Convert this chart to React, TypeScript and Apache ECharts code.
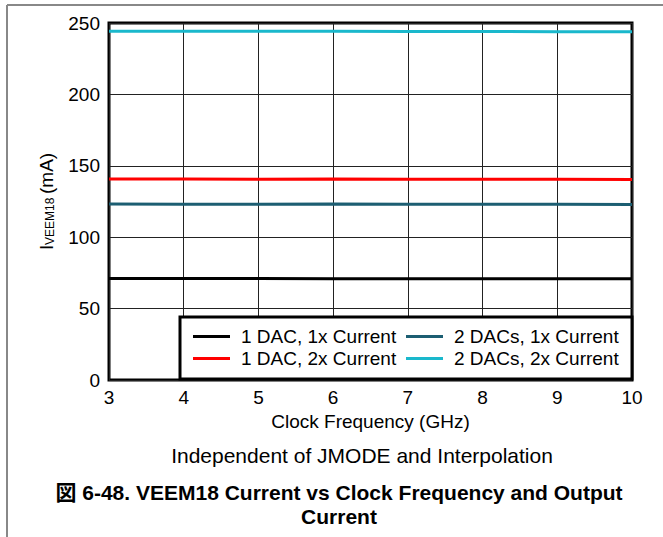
import React, { useEffect, useRef } from "react";
import * as echarts from "echarts";

const freqs = [3, 4, 5, 6, 7, 8, 9, 10];
const seriesNames = ["1 DAC, 1x Current", "1 DAC, 2x Current", "2 DACs, 1x Current", "2 DACs, 2x Current"];
const dac1x1 = [71.0, 71.0, 71.0, 70.9, 70.9, 70.9, 70.9, 70.9];
const dac1x2 = [140.7, 140.7, 140.6, 140.7, 140.6, 140.6, 140.5, 140.4];
const dac2x1 = [123.2, 123.1, 123.1, 123.2, 123.1, 123.0, 123.0, 122.9];
const dac2x2 = [244.3, 244.3, 244.2, 244.2, 244.1, 244.0, 243.9, 243.8];
const colors = ["#000000", "#ff0000", "#1c5e72", "#1ab8cc"];
const legendCol1 = [seriesNames[0], seriesNames[1]];
const legendCol2 = [seriesNames[2], seriesNames[3]];
const xTitle = "Clock Frequency (GHz)";
const subtitle = "Independent of JMODE and Interpolation";
const caption1 = "図 6-48. VEEM18 Current vs Clock Frequency and Output";
const caption2 = "Current";

const FONT = "'Liberation Sans', Arial, 'Noto Sans CJK JP', sans-serif";

export default function App() {
  const ref = useRef<HTMLDivElement>(null);
  useEffect(() => {
    document.body.style.margin = "0";
    const chart = echarts.init(ref.current!, null, { renderer: "svg" });
    const allData = [dac1x1, dac1x2, dac2x1, dac2x2];
    const legendBase = {
      top: 327,
      orient: "vertical",
      padding: 0,
      itemGap: 3,
      itemWidth: 37,
      itemHeight: 3,
      icon: "rect",
      z: 5,
      textStyle: { fontSize: 19, color: "#000", fontFamily: FONT, padding: [0, 0, 0, 6] },
    };
    chart.setOption({
      animation: false,
      backgroundColor: "#ffffff",
      textStyle: { fontFamily: FONT },
      grid: {
        left: 109,
        top: 23,
        width: 523,
        height: 357,
        show: true,
        borderColor: "#000",
        borderWidth: 3,
        backgroundColor: "transparent",
      },
      xAxis: {
        type: "value",
        min: 3,
        max: 10,
        interval: 1,
        name: xTitle,
        nameLocation: "middle",
        nameGap: 32,
        nameTextStyle: { fontSize: 19, color: "#000", fontFamily: FONT },
        axisLine: { show: false },
        axisTick: { show: false },
        axisLabel: { fontSize: 19, color: "#000", margin: 8, fontFamily: FONT },
        splitLine: { show: true, lineStyle: { color: "#222", width: 1 } },
      },
      yAxis: {
        type: "value",
        min: 0,
        max: 250,
        interval: 50,
        axisLine: { show: false },
        axisTick: { show: false },
        axisLabel: { fontSize: 19, color: "#000", margin: 9, fontFamily: FONT },
        splitLine: { show: true, lineStyle: { color: "#222", width: 1 } },
      },
      legend: [
        { ...legendBase, left: 193, data: legendCol1 },
        { ...legendBase, left: 406, data: legendCol2 },
      ],
      series: seriesNames.map((n, i) => ({
        name: n,
        type: "line",
        data: freqs.map((f, j) => [f, allData[i][j]]),
        symbol: "none",
        lineStyle: { color: colors[i], width: 3 },
        itemStyle: { color: colors[i] },
      })),
      graphic: [
        { type: "line", shape: { x1: 7, y1: 5, x2: 663, y2: 5 }, style: { stroke: "#888", lineWidth: 2 } },
        { type: "line", shape: { x1: 7, y1: 5, x2: 7, y2: 537 }, style: { stroke: "#888", lineWidth: 2 } },
        {
          type: "rect",
          z: 3,
          shape: { x: 180, y: 317, width: 452, height: 62 },
          style: { fill: "#fff", stroke: "#000", lineWidth: 3 },
        },
        {
          type: "group",
          x: 46,
          y: 250,
          rotation: Math.PI / 2,
          children: [
            { type: "text", x: 0, y: 0, style: { text: "I", fontSize: 19, fontFamily: FONT, fill: "#000", verticalAlign: "middle", align: "left" } },
            { type: "text", x: 5, y: 4, style: { text: "VEEM18", fontSize: 12, fontFamily: FONT, fill: "#000", verticalAlign: "middle", align: "left" } },
            { type: "text", x: 56, y: 0, style: { text: "(mA)", fontSize: 19, fontFamily: FONT, fill: "#000", verticalAlign: "middle", align: "left" } },
          ],
        },
        { type: "text", x: 362, y: 455, style: { text: subtitle, fontSize: 21, fontFamily: FONT, fill: "#000", align: "center", verticalAlign: "middle" } },
        { type: "text", x: 339, y: 492, style: { text: caption1, fontSize: 21, fontWeight: "bold", fontFamily: FONT, fill: "#000", align: "center", verticalAlign: "middle" } },
        { type: "text", x: 339, y: 516, style: { text: caption2, fontSize: 21, fontWeight: "bold", fontFamily: FONT, fill: "#000", align: "center", verticalAlign: "middle" } },
      ],
    });
    return () => chart.dispose();
  }, []);
  return <div ref={ref} style={{ width: 663, height: 537 }} />;
}
